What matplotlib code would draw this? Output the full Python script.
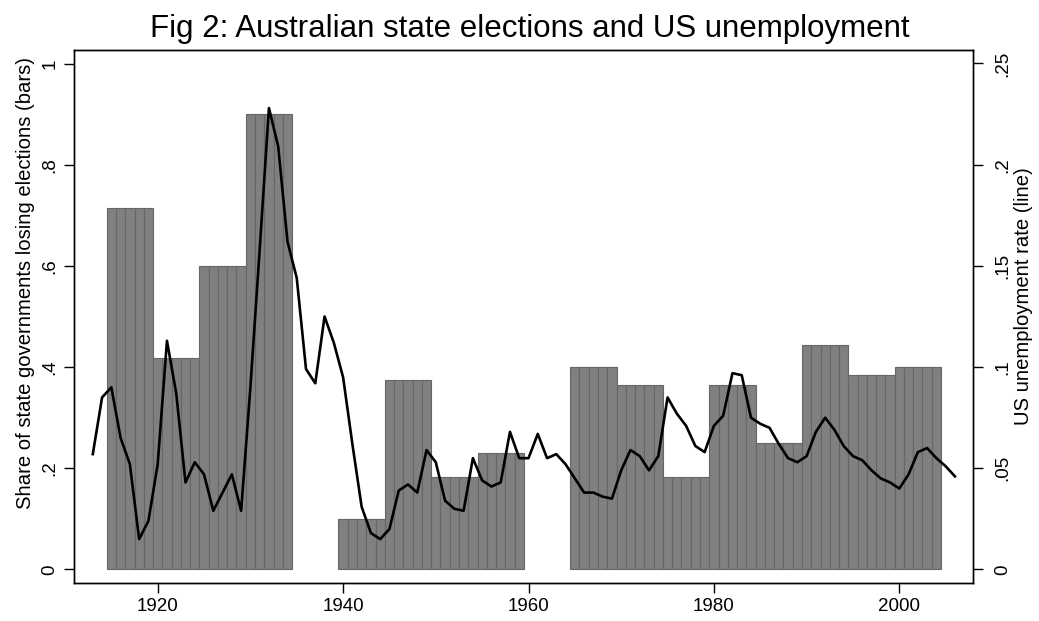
import numpy as np
import matplotlib
matplotlib.use('Agg')
import matplotlib.pyplot as plt

plt.rcParams['font.family'] = ['Liberation Sans', 'DejaVu Sans']

# share of state governments losing elections, by 5-year period (None = no bars)
period_starts = [1915, 1920, 1925, 1930, 1935, 1940, 1945, 1950, 1955, 1960,
                 1965, 1970, 1975, 1980, 1985, 1990, 1995, 2000]
period_share = [0.714, 0.417, 0.600, 0.900, None, 0.100, 0.375, 0.182, 0.231, None,
                0.400, 0.364, 0.182, 0.364, 0.250, 0.444, 0.385, 0.400]

# US unemployment rate, 1913-2006
unemp_years = list(range(1913, 2007))
unemp_rate = [0.057, 0.085, 0.090, 0.065, 0.052, 0.015, 0.024, 0.052, 0.113, 0.087,
              0.043, 0.053, 0.047, 0.029, 0.038, 0.047, 0.029, 0.090, 0.158, 0.228,
              0.209, 0.162, 0.144, 0.099, 0.092, 0.125, 0.112, 0.095, 0.062, 0.031,
              0.018, 0.015, 0.020, 0.039, 0.042, 0.038, 0.059, 0.053, 0.034, 0.030,
              0.029, 0.055, 0.044, 0.041, 0.043, 0.068, 0.055, 0.055, 0.067, 0.055,
              0.057, 0.052, 0.045, 0.038, 0.038, 0.036, 0.035, 0.049, 0.059, 0.056,
              0.049, 0.056, 0.085, 0.077, 0.071, 0.061, 0.058, 0.071, 0.076, 0.097,
              0.096, 0.075, 0.072, 0.070, 0.062, 0.055, 0.053, 0.056, 0.068, 0.075,
              0.069, 0.061, 0.056, 0.054, 0.049, 0.045, 0.043, 0.040, 0.047, 0.058,
              0.060, 0.055, 0.051, 0.046]

# one bar per year inside each period
bar_years = []
bar_vals = []
for start, share in zip(period_starts, period_share):
    if share is None:
        continue
    for yr in range(start, start + 5):
        bar_years.append(yr)
        bar_vals.append(share)

fig = plt.figure(figsize=(10.39, 6.21), dpi=100)
ax = fig.add_axes([0.0712, 0.0612, 0.8653, 0.8583])
ax.bar(bar_years, bar_vals, width=1.0, color='#808080', edgecolor='#666666', linewidth=0.8)
ax.set_xlim(1910.97, 2007.95)
ax.set_ylim(-0.0267, 1.0267)
ax.set_xticks([1920, 1940, 1960, 1980, 2000])
ax.set_yticks([0, 0.2, 0.4, 0.6, 0.8, 1.0])
ax.set_yticklabels(['0', '.2', '.4', '.6', '.8', '1'], rotation=90, va='center')
ax.set_ylabel('Share of state governments losing elections (bars)', fontsize=14.6,
              labelpad=5, y=0.563)

ax2 = ax.twinx()
ax2.plot(unemp_years, unemp_rate, color='black', linewidth=1.9)
ax2.set_ylim(-0.00667, 0.25667)
ax2.set_yticks([0, 0.05, 0.1, 0.15, 0.2, 0.25])
ax2.set_yticklabels(['0', '.05', '.1', '.15', '.2', '.25'], rotation=90, va='center')
ax2.set_ylabel('US unemployment rate (line)', fontsize=14.6, labelpad=2, y=0.5375)

for a in (ax, ax2):
    a.tick_params(direction='out', length=7, width=1, labelsize=13.5, pad=4)
    for s in a.spines.values():
        s.set_linewidth(1.0)
ax2.tick_params(axis='y', pad=8)

fig.text(0.5096, 1 - 29 / 621, 'Fig 2: Australian state elections and US unemployment',
         ha='center', va='center', fontsize=22.5)

fig.savefig('out.png', dpi=100)
